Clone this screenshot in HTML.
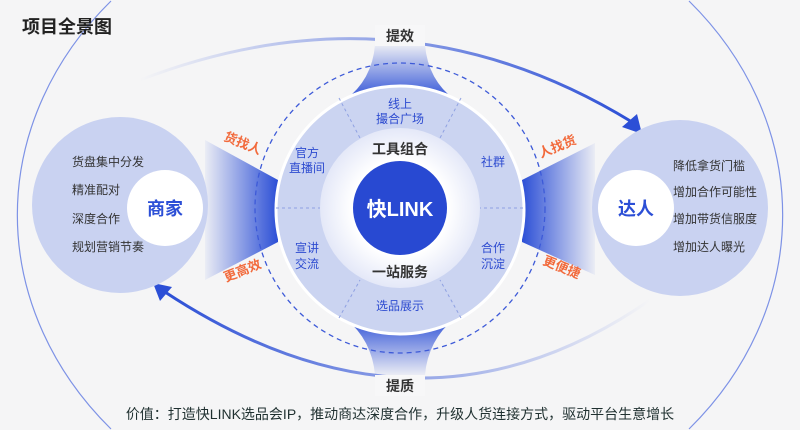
<!DOCTYPE html>
<html><head><meta charset="utf-8"><style>
html,body{margin:0;padding:0;width:800px;height:430px;background:#f5f5f6;overflow:hidden}
svg{display:block;overflow:hidden}
svg text{font-family:"Liberation Sans","Noto Sans CJK SC",sans-serif}
</style></head><body>
<svg width="800" height="430" viewBox="0 0 800 430" xmlns="http://www.w3.org/2000/svg">
<defs>
<linearGradient id="fl" x1="1" y1="0" x2="0" y2="0"><stop offset="0" stop-color="#2c4fd6"/><stop offset="1" stop-color="#2c4fd6" stop-opacity="0.05"/></linearGradient>
<linearGradient id="fr" x1="0" y1="0" x2="1" y2="0"><stop offset="0" stop-color="#2c4fd6"/><stop offset="1" stop-color="#2c4fd6" stop-opacity="0.05"/></linearGradient>
<linearGradient id="ft" x1="0" y1="1" x2="0" y2="0"><stop offset="0" stop-color="#2c4fd6"/><stop offset="1" stop-color="#2c4fd6" stop-opacity="0.05"/></linearGradient>
<linearGradient id="fb" x1="0" y1="0" x2="0" y2="1"><stop offset="0" stop-color="#2c4fd6"/><stop offset="1" stop-color="#2c4fd6" stop-opacity="0.05"/></linearGradient>
<linearGradient id="at" x1="0" y1="0" x2="1" y2="0"><stop offset="0" stop-color="#2c4fd6" stop-opacity="0"/><stop offset="0.5" stop-color="#2c4fd6" stop-opacity="0.5"/><stop offset="1" stop-color="#2c4fd6"/></linearGradient>
<linearGradient id="ab" x1="1" y1="0" x2="0" y2="0"><stop offset="0" stop-color="#2c4fd6" stop-opacity="0"/><stop offset="0.5" stop-color="#2c4fd6" stop-opacity="0.5"/><stop offset="1" stop-color="#2c4fd6"/></linearGradient>
<radialGradient id="wg"><stop offset="0.6" stop-color="#fff"/><stop offset="1" stop-color="#e4e8f8"/></radialGradient>
</defs>
<path d="M111 1 A384 327 0 0 0 111 429" fill="none" stroke="#7d92e6" stroke-width="1.2"/>
<path d="M689 1 A384 327 0 0 1 689 429" fill="none" stroke="#7d92e6" stroke-width="1.2"/>
<text x="22" y="33" font-size="18" font-weight="bold" fill="#222">项目全景图</text>
<path d="M140 80 Q400 -20 632 122" fill="none" stroke="url(#at)" stroke-width="3"/>
<polygon points="642,134 622,127 637,114" fill="#2c4fd6"/>
<path d="M650 300 Q420 460 165 292" fill="none" stroke="url(#ab)" stroke-width="3"/>
<polygon points="153,283 172,287 160,301" fill="#2c4fd6"/>
<polygon points="205,140 278,180 278,242 205,280" fill="url(#fl)"/>
<polygon points="595,143 522,180 522,242 595,275" fill="url(#fr)"/>
<path d="M375 45 L425 45 Q428 80 455 100 L345 100 Q372 80 375 45Z" fill="url(#ft)"/>
<path d="M345 318 L455 318 Q428 340 425 375 L375 375 Q372 340 345 318Z" fill="url(#fb)"/>
<circle cx="120" cy="205" r="88" fill="#c9d2f1"/>
<circle cx="165" cy="208" r="38" fill="#fff"/>
<circle cx="680" cy="208" r="88" fill="#c9d2f1"/>
<circle cx="636" cy="208" r="38" fill="#fff"/>
<circle cx="400" cy="208" r="145" fill="none" stroke="#3d5ad8" stroke-width="1.3" stroke-dasharray="5,4"/>
<circle cx="400" cy="210" r="124" fill="#cbd4f1" stroke="#fff" stroke-width="3"/>
<g stroke="#8fa1e2" stroke-dasharray="3,3" stroke-width="1">
<line x1="276" y1="208" x2="322" y2="208"/><line x1="478" y1="208" x2="524" y2="208"/>
<line x1="339" y1="98" x2="360" y2="138"/><line x1="461" y1="98" x2="440" y2="138"/>
<line x1="339" y1="318" x2="360" y2="280"/><line x1="461" y1="318" x2="440" y2="280"/>
</g>
<circle cx="400" cy="208" r="80" fill="url(#wg)"/>
<circle cx="400" cy="208" r="47" fill="#2849d2"/>
<g font-size="12" fill="#2d4bd0" text-anchor="middle">
<text x="400" y="108">线上</text><text x="400" y="123">撮合广场</text>
<text x="307" y="157">官方</text><text x="307" y="172">直播间</text>
<text x="493" y="166">社群</text>
<text x="307" y="252">宣讲</text><text x="307" y="268">交流</text>
<text x="493" y="252">合作</text><text x="493" y="268">沉淀</text>
<text x="400" y="310">选品展示</text>
</g>
<g font-size="14" font-weight="bold" fill="#333" text-anchor="middle">
<text x="400" y="154">工具组合</text><text x="400" y="277">一站服务</text>
</g>
<text x="400" y="216" font-size="20" font-weight="bold" fill="#fff" text-anchor="middle">快LINK</text>
<g font-size="13" font-weight="bold" fill="#f26a3c">
<text x="223" y="140" transform="rotate(22 223 140)">货找人</text>
<text x="226" y="282" transform="rotate(-22 226 282)">更高效</text>
<text x="541" y="158" transform="rotate(-22 541 158)">人找货</text>
<text x="542" y="264" transform="rotate(22 542 264)">更便捷</text>
</g>
<g font-size="12" fill="#333">
<text x="72" y="166">货盘集中分发</text><text x="72" y="194">精准配对</text>
<text x="72" y="223">深度合作</text><text x="72" y="251">规划营销节奏</text>
<text x="673" y="170">降低拿货门槛</text><text x="673" y="196">增加合作可能性</text>
<text x="673" y="223">增加带货信服度</text><text x="673" y="251">增加达人曝光</text>
</g>
<g font-size="18" font-weight="bold" fill="#2c4fd6" text-anchor="middle">
<text x="165" y="215">商家</text><text x="636" y="215">达人</text>
</g>
<rect x="375" y="25" width="50" height="21" fill="#f7f7f8"/>
<text x="400" y="41" font-size="14" font-weight="bold" fill="#333" text-anchor="middle">提效</text>
<rect x="375" y="375" width="50" height="21" fill="#f7f7f8"/>
<text x="400" y="391" font-size="14" font-weight="bold" fill="#333" text-anchor="middle">提质</text>
<text x="400" y="419" font-size="14" fill="#1f3030" text-anchor="middle">价值：打造快LINK选品会IP，推动商达深度合作，升级人货连接方式，驱动平台生意增长</text>
</svg>
</body></html>
